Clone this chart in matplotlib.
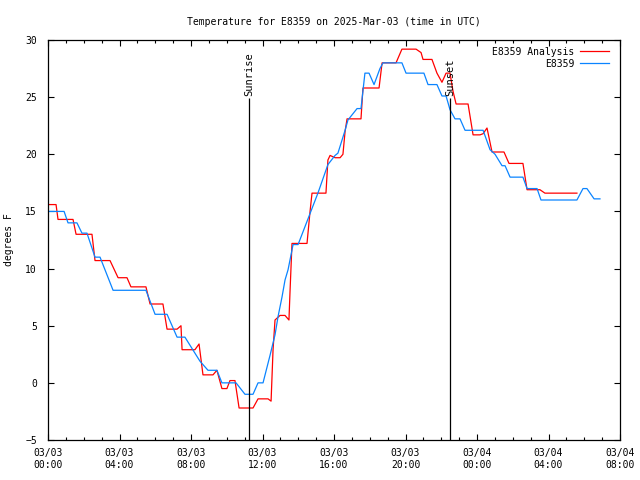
import matplotlib
matplotlib.use("Agg")
import matplotlib.pyplot as plt
from matplotlib.ticker import MultipleLocator

# hours since 2025-03-03 00:00 UTC
analysis_hours = [0, 0.45, 0.56, 1.40, 1.57, 2.46, 2.63, 3.47, 3.92, 4.42, 4.64, 5.48, 5.71,
                  6.43, 6.66, 7.22, 7.44, 7.50, 8.22, 8.45, 8.67, 9.23, 9.45, 9.73, 10.01,
                  10.18, 10.46, 10.69, 11.47, 11.75, 12.31, 12.48, 12.59, 12.70, 12.98, 13.26,
                  13.48, 13.54, 13.65, 14.49, 14.66, 14.77, 15.55, 15.66, 15.78, 16.06, 16.34,
                  16.50, 16.62, 16.73, 17.51, 17.62, 18.52, 18.69, 19.47, 19.80, 20.59, 20.87,
                  20.98, 21.48, 21.76, 22.04, 22.27, 22.49, 22.66, 22.83, 23.50, 23.78, 24.17,
                  24.34, 24.56, 24.84, 25.51, 25.79, 26.57, 26.80, 27.52, 27.80, 29.59]
analysis_temp = [15.6, 15.6, 14.3, 14.3, 13.0, 13.0, 10.7, 10.7, 9.2, 9.2, 8.4, 8.4, 6.9,
                 6.9, 4.7, 4.7, 5.0, 2.9, 2.9, 3.4, 0.7, 0.7, 1.1, -0.5, -0.5,
                 0.2, 0.2, -2.2, -2.2, -1.4, -1.4, -1.6, 2.9, 5.5, 5.9, 5.9,
                 5.5, 8.0, 12.2, 12.2, 15.0, 16.6, 16.6, 19.5, 19.9, 19.7, 19.7,
                 20.0, 22.0, 23.1, 23.1, 25.8, 25.8, 28.0, 28.0, 29.2, 29.2, 28.9,
                 28.3, 28.3, 27.1, 26.3, 27.1, 27.1, 25.5, 24.4, 24.4, 21.7, 21.7,
                 21.8, 22.3, 20.2, 20.2, 19.2, 19.2, 16.9, 16.9, 16.6, 16.6]

obs_hours = [0, 0.90, 1.12, 1.62, 1.90, 2.18, 2.63, 2.91, 3.64, 5.48, 5.99, 6.66, 7.22,
             7.66, 8.50, 8.95, 9.45, 9.73, 10.52, 11.02, 11.47, 11.75, 12.03, 12.42, 12.70,
             12.87, 13.09, 13.26, 13.43, 13.71, 13.99, 15.10, 15.66, 16.06, 16.22, 16.62,
             16.78, 17.29, 17.51, 17.73, 17.96, 18.24, 18.57, 18.74, 19.80, 20.03, 21.03,
             21.26, 21.76, 22.04, 22.27, 22.49, 22.77, 23.05, 23.33, 24.34, 24.73, 25.01,
             25.40, 25.57, 25.85, 26.57, 26.80, 27.36, 27.58, 29.59, 29.93, 30.15, 30.55, 30.88]
obs_temp = [15.0, 15.0, 14.0, 14.0, 13.1, 13.1, 11.0, 11.0, 8.1, 8.1, 6.0, 6.0, 4.0,
            4.0, 1.9, 1.1, 1.1, 0.0, 0.0, -1.0, -1.0, 0.0, 0.0, 2.4, 4.2,
            5.8, 7.5, 9.0, 9.9, 12.1, 12.1, 16.6, 19.1, 19.9, 20.1, 22.1,
            23.0, 24.0, 24.0, 27.1, 27.1, 26.1, 27.5, 28.0, 28.0, 27.1, 27.1,
            26.1, 26.1, 25.1, 25.1, 23.9, 23.1, 23.1, 22.1, 22.1, 20.4, 20.0,
            19.0, 19.0, 18.0, 18.0, 17.0, 17.0, 16.0, 16.0, 17.0, 17.0, 16.1, 16.1]

sunrise = 11.24
sunset = 22.49
sun_line_top = 24.9

tick_hours = [0, 4, 8, 12, 16, 20, 24, 28, 32]
tick_labels = ["03/03\n00:00", "03/03\n04:00", "03/03\n08:00", "03/03\n12:00",
               "03/03\n16:00", "03/03\n20:00", "03/04\n00:00", "03/04\n04:00",
               "03/04\n08:00"]

plt.rcParams['font.family'] = 'DejaVu Sans Mono'
plt.rcParams['font.size'] = 7

fig = plt.figure(figsize=(6.4, 4.8), dpi=100)
ax = fig.add_axes([48 / 640, 40 / 480, 572 / 640, 400 / 480])

ax.plot(analysis_hours, analysis_temp, color='#ff0000', lw=0.9, label='E8359 Analysis')
ax.plot(obs_hours, obs_temp, color='#0a84ff', lw=0.9, label='E8359')

ax.vlines([sunrise, sunset], -5, sun_line_top, color='black', lw=0.9)
ax.text(sunrise, sun_line_top + 0.2, "Sunrise", rotation=90, ha='center', va='bottom',
        fontsize=7.5)
ax.text(sunset, sun_line_top + 0.2, "Sunset", rotation=90, ha='center', va='bottom',
        fontsize=7.5)

ax.set_xlim(0, 32)
ax.set_ylim(-5, 30)
ax.set_xticks(tick_hours)
ax.set_xticklabels(tick_labels)
ax.xaxis.set_minor_locator(MultipleLocator(1))
ax.set_yticks(range(-5, 31, 5))
ax.tick_params(direction='in', top=True, right=True, length=4, width=0.8, pad=6)
ax.tick_params(axis='y', pad=8)
ax.tick_params(which='minor', direction='in', top=True, length=2, width=0.8)
for s in ax.spines.values():
    s.set_linewidth(0.9)

ax.set_title("Temperature for E8359 on 2025-Mar-03 (time in UTC)", fontsize=7, pad=11)
ax.set_ylabel("degrees F", va='center')
ax.yaxis.set_label_coords(-38.5 / 572, 0.5)

ax.legend(loc='upper right', bbox_to_anchor=(1 - 4 / 572, 1.0), frameon=False,
          markerfirst=False, handlelength=3, handletextpad=0.6, labelspacing=0.2,
          borderaxespad=0.3)

fig.savefig("out.png", dpi=100)
